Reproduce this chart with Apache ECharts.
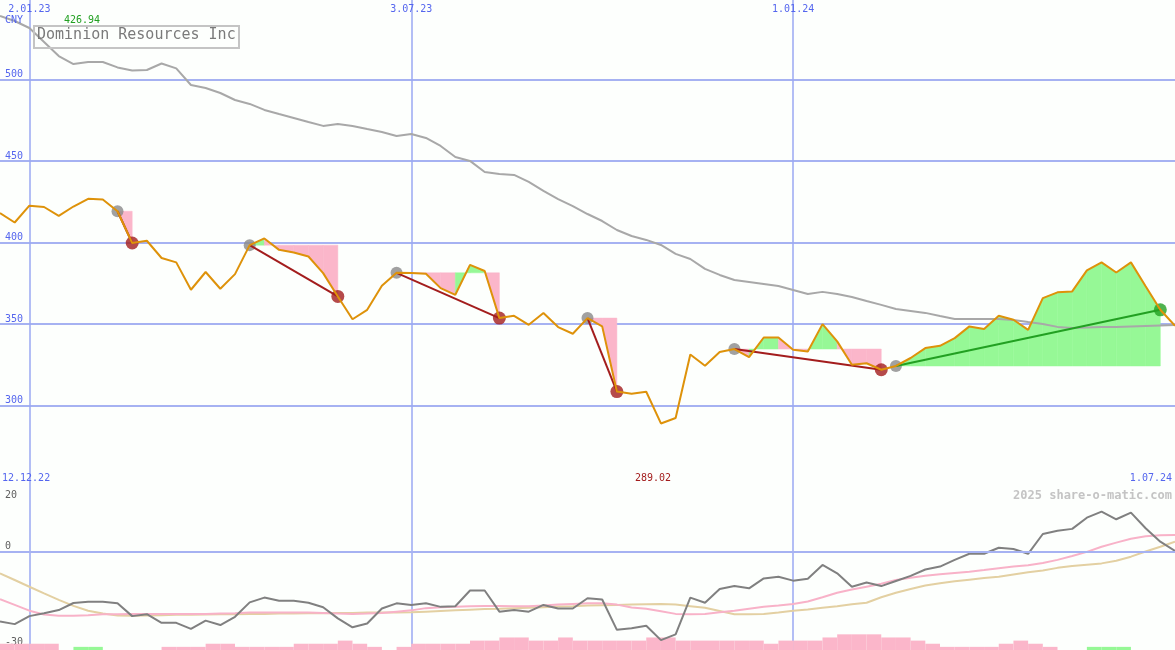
<!DOCTYPE html>
<html><head><meta charset="utf-8">
<script src="https://cdn.jsdelivr.net/npm/echarts@6/dist/echarts.min.js"></script>
<style>html,body{margin:0;padding:0;background:#fdfffd}#c{width:1175px;height:650px}</style>
</head><body><div id="c"></div>
<script>
// ---------- data ----------
const firstWeek = [2022, 11, 19];          // first weekly close shown (19.12.22)
const weekCount = 81;
const gridDates = ['2.01.23', '3.07.23', '1.01.24'];

const price = [418.2,412.4,422.7,421.9,416.5,422.2,426.94,426.5,419.3,399.8,
  401.2,390.6,387.9,371.1,382.0,371.7,380.7,398.5,402.6,395.6,
  394.0,391.5,381.3,367.0,353.0,358.8,373.5,381.5,381.4,380.9,
  372.1,368.0,386.4,382.6,353.7,355.1,349.6,356.8,348.2,344.1,
  353.7,348.6,308.6,307.2,308.5,289.02,292.4,331.4,324.4,332.9,
  334.7,329.8,341.8,341.8,334.3,333.2,350.0,339.4,325.0,326.0,
  322.0,324.3,329.2,335.3,336.7,341.4,348.6,347.0,355.1,352.7,
  346.5,366.0,369.5,370.1,383.0,387.9,381.7,387.9,373.2,358.8,349.0];

const longAvg = [539.2,536.1,531.8,523.2,514.6,509.7,510.9,510.9,507.6,505.7,
  506.0,510.0,507.0,496.8,495.0,491.9,487.6,485.2,481.5,479.0,
  476.6,474.1,471.7,472.9,471.7,469.8,468.0,465.5,466.7,464.3,
  459.4,452.6,450.2,443.4,442.2,441.6,437.3,431.8,426.8,422.5,
  417.6,413.3,407.8,404.1,401.7,398.6,393.1,390.0,383.9,380.2,
  377.1,375.9,374.7,373.4,371.0,368.5,369.8,368.5,366.7,364.2,
  361.8,359.3,358.1,356.9,355.0,353.2,353.2,353.2,353.2,352.6,
  351.3,350.1,348.3,347.6,347.9,348.3,348.3,348.6,348.9,349.2,349.5];

// trades: [entry week, exit week]
const trades = [[8,9],[17,23],[27,34],[40,42],[50,60],[61,79]];

const oscillator = [-21.8,-22.6,-20.1,-19.2,-18.2,-16.0,-15.6,-15.6,-16.1,-20.1,
  -19.5,-22.2,-22.2,-24.1,-21.5,-22.9,-20.3,-15.8,-14.3,-15.3,
  -15.3,-15.9,-17.3,-20.8,-23.6,-22.4,-17.7,-16.1,-16.6,-16.1,
  -17.2,-17.0,-12.1,-12.1,-18.7,-18.2,-18.7,-16.6,-17.7,-17.7,
  -14.5,-14.9,-24.4,-23.9,-23.1,-27.6,-25.8,-14.3,-15.9,-11.6,
  -10.7,-11.4,-8.3,-7.8,-9.0,-8.4,-4.1,-6.7,-10.9,-9.6,
  -10.7,-9.1,-7.5,-5.5,-4.6,-2.5,-0.6,-0.6,1.3,0.9,
  -0.6,5.6,6.6,7.2,10.7,12.6,10.2,12.3,7.4,3.2,0.3];

const fastSignal = [-14.8,-16.6,-18.4,-19.6,-20.0,-20.0,-19.8,-19.5,-19.5,-19.4,
  -19.4,-19.4,-19.4,-19.4,-19.4,-19.3,-19.2,-19.0,-19.0,-19.0,
  -19.0,-19.0,-19.1,-19.3,-19.4,-19.3,-19.1,-18.7,-18.3,-17.6,
  -17.3,-17.2,-17.0,-16.9,-16.9,-17.0,-17.0,-16.8,-16.5,-16.3,
  -16.1,-16.1,-16.5,-17.4,-17.8,-18.6,-19.4,-19.5,-19.4,-18.9,
  -18.4,-17.8,-17.2,-16.8,-16.3,-15.5,-14.2,-12.8,-11.8,-10.9,
  -10.0,-8.8,-8.1,-7.5,-7.0,-6.6,-6.2,-5.7,-5.1,-4.6,
  -4.2,-3.5,-2.5,-1.3,0.0,1.6,2.9,4.1,4.9,5.2,5.3];

const slowSignal = [-6.7,-8.8,-10.9,-13.0,-15.0,-16.9,-18.4,-19.3,-19.9,-20.0,
  -19.9,-19.8,-19.7,-19.7,-19.6,-19.5,-19.5,-19.4,-19.4,-19.3,
  -19.3,-19.2,-19.2,-19.1,-19.1,-19.0,-19.0,-19.0,-18.9,-18.7,
  -18.5,-18.3,-18.1,-17.9,-17.8,-17.6,-17.5,-17.3,-17.1,-17.0,
  -16.8,-16.7,-16.6,-16.5,-16.4,-16.3,-16.5,-17.0,-17.5,-18.5,
  -19.5,-19.5,-19.4,-19.0,-18.4,-18.0,-17.5,-17.0,-16.4,-15.9,
  -14.2,-12.8,-11.6,-10.5,-9.8,-9.2,-8.7,-8.2,-7.8,-7.1,
  -6.4,-5.8,-5.0,-4.4,-4.0,-3.6,-2.8,-1.5,0.1,1.6,3.2];

// signal strength bars per week (positive = pink, negative = green)
const signalBars = [2,2,2,2,0,-1,-1,0,0,0,
  0,1,1,1,2,2,1,1,1,1,
  2,2,2,3,2,1,0,1,2,2,
  2,2,3,3,4,4,3,3,4,3,
  3,3,3,3,4,4,3,3,3,3,
  3,3,2,3,3,3,4,5,5,5,
  4,4,3,2,1,1,1,1,2,3,
  2,1,0,0,-1,-1,-1,0,0,0];

const title = 'Dominion Resources Inc';
const currency = 'CNY';
const maxLabel = '426.94', minLabel = '289.02';
const rangeStart = '12.12.22', rangeEnd = '1.07.24';
const credit = '2025 share-o-matic.com';

// ---------- build ----------
const dates = [];
for (let k = 0; k < weekCount; k++) {
  const d = new Date(Date.UTC(firstWeek[0], firstWeek[1], firstWeek[2] + 7 * k));
  dates.push(d.getUTCDate() + '.' + String(d.getUTCMonth() + 1).padStart(2, '0') + '.' + String(d.getUTCFullYear()).slice(2));
}
const MONO = "'DejaVu Sans Mono','Liberation Mono',monospace";
const BLUE = '#5566ee', GRID = '#a6b2f2', VGRID = '#9aa8f2';
const PINK = '#fbb6ca', GREEN = '#96f896';
const LOSS = '#a31d1d', GAIN = '#22a022';
const isGrid = (i, v) => gridDates.indexOf(v) >= 0;

const fillData = [];
trades.forEach(([a, b]) => {
  const e = price[a];
  for (let i = a; i < b; i++) fillData.push([i, e, price[i], price[i + 1]]);
});
const entryDots = trades.map(([a]) => [a, price[a]]);
const exitDots = trades.map(([a, b]) => ({value: [b, price[b]],
  itemStyle: {color: price[b] >= price[a] ? GAIN : LOSS}}));
const tradeLines = trades.map(([a, b]) => ({
  type: 'line', xAxisIndex: 0, yAxisIndex: 0, z: 4, symbol: 'none', silent: true,
  data: [[a, price[a]], [b, price[b]]],
  lineStyle: {color: price[b] >= price[a] ? GAIN : LOSS, width: 2}
}));
const barData = signalBars.map((v, i) => [i, Math.abs(v), v < 0 ? 1 : 0]).filter(d => d[1] > 0);

const chart = echarts.init(document.getElementById('c'), null, {renderer: 'canvas'});
chart.setOption({
  animation: false,
  backgroundColor: '#fdfffd',
  grid: [
    {left: 0, right: 0, top: 0, height: 487, outerBoundsMode: 'none', containLabel: false},
    {left: 0, right: 0, top: 487, height: 163, outerBoundsMode: 'none', containLabel: false}
  ],
  xAxis: [
    {gridIndex: 0, type: 'category', data: dates, boundaryGap: false, position: 'top',
     axisLine: {show: false}, axisTick: {show: false},
     axisLabel: {inside: true, interval: isGrid, color: BLUE, fontSize: 10, fontFamily: MONO, margin: 4},
     splitLine: {show: true, interval: isGrid, lineStyle: {color: VGRID, width: 1.5}}},
    {gridIndex: 1, type: 'category', data: dates, boundaryGap: false, position: 'top',
     axisLine: {show: true, lineStyle: {color: '#7a88ea', width: 2}}, axisTick: {show: false},
     axisLabel: {show: false},
     splitLine: {show: true, interval: isGrid, lineStyle: {color: VGRID, width: 1.5}}}
  ],
  yAxis: [
    {gridIndex: 0, type: 'value', min: 250, max: 549, interval: 50,
     axisLine: {show: false}, axisTick: {show: false},
     axisLabel: {inside: true, verticalAlign: 'bottom', color: BLUE, fontSize: 10, fontFamily: MONO, margin: 5,
       showMinLabel: false, showMaxLabel: false,
       formatter: v => (v % 50 === 0 && v > 250 ? String(v) : '')},
     splitLine: {show: true, showMinLine: false, showMaxLine: false, lineStyle: {color: GRID, width: 2}}},
    {gridIndex: 1, type: 'value', min: -30.7, max: 20.3,
     axisLine: {show: false}, axisTick: {show: false}, splitLine: {show: false},
     axisLabel: {inside: true, customValues: [0, -30], verticalAlign: 'bottom', color: '#606060', fontSize: 10, fontFamily: MONO, margin: 5}},
    {gridIndex: 1, type: 'value', min: -30.7, max: 20.3, position: 'left',
     axisLine: {show: false}, axisTick: {show: false}, splitLine: {show: false},
     axisLabel: {inside: true, customValues: [20], verticalAlign: 'top', color: '#606060', fontSize: 10, fontFamily: MONO, margin: 5, padding: [2, 0, 0, 0]}},
    {gridIndex: 1, type: 'value', min: 0, max: 52, show: false}
  ],
  series: [
    {type: 'custom', xAxisIndex: 0, yAxisIndex: 0, z: 1, silent: true, data: fillData,
     renderItem: (params, api) => {
       const i = api.value(0), e = api.value(1), p = api.value(2), q = api.value(3);
       return {type: 'polygon',
         shape: {points: [api.coord([i, e]), api.coord([i, p]), api.coord([i + 1, q]), api.coord([i + 1, e])]},
         style: {fill: q >= e ? GREEN : PINK, stroke: q >= e ? GREEN : PINK, lineWidth: 0.5}};
     }},
    {type: 'line', xAxisIndex: 0, yAxisIndex: 0, z: 2, symbol: 'none', silent: true,
     data: longAvg, lineStyle: {color: '#a8a8a8', width: 2}},
    {type: 'scatter', xAxisIndex: 0, yAxisIndex: 0, z: 3, symbolSize: 12, silent: true,
     data: entryDots, itemStyle: {color: '#8a8a8a'}},
    {type: 'scatter', xAxisIndex: 0, yAxisIndex: 0, z: 3, symbolSize: 13, silent: true,
     data: exitDots},
    ...tradeLines,
    {type: 'line', xAxisIndex: 0, yAxisIndex: 0, z: 5, symbol: 'none', silent: true,
     data: price, lineStyle: {color: '#de920a', width: 2}},

    {type: 'custom', xAxisIndex: 1, yAxisIndex: 3, z: 1, silent: true, data: barData,
     renderItem: (params, api) => {
       const i = api.value(0), v = api.value(1), g = api.value(2);
       const p0 = api.coord([i, 0]), p1 = api.coord([i + 1, v]);
       return {type: 'rect', shape: {x: p0[0], y: p1[1], width: p1[0] - p0[0], height: p0[1] - p1[1]},
         style: {fill: g ? GREEN : PINK}};
     }},
    {type: 'line', xAxisIndex: 1, yAxisIndex: 1, z: 2, symbol: 'none', silent: true,
     data: slowSignal, lineStyle: {color: '#e3d0a2', width: 2}},
    {type: 'line', xAxisIndex: 1, yAxisIndex: 1, z: 2, symbol: 'none', silent: true,
     data: fastSignal, lineStyle: {color: '#f8b2c8', width: 2}},
    {type: 'line', xAxisIndex: 1, yAxisIndex: 1, z: 3, symbol: 'none', silent: true,
     data: oscillator, lineStyle: {color: '#808080', width: 2},
     markLine: {silent: true, symbol: 'none', label: {show: false},
       lineStyle: {color: GRID, width: 2, type: 'solid'}, data: [{yAxis: 0}]}}
  ],
  graphic: [
    {type: 'rect', left: 33, top: 25, shape: {width: 205, height: 22}, z: 10,
     style: {fill: 'rgba(0,0,0,0)', stroke: '#c4c4c4', lineWidth: 2}},
    {type: 'text', left: 37, top: 28, z: 11,
     style: {text: title, fill: '#7a7a7a', font: '15px ' + MONO}},
    {type: 'text', left: 5, top: 15, z: 11, style: {text: currency, fill: BLUE, font: '10px ' + MONO}},
    {type: 'text', left: 64, top: 15, z: 11, style: {text: maxLabel, fill: '#22a022', font: '10px ' + MONO}},
    {type: 'text', left: 2, top: 473, z: 11, style: {text: rangeStart, fill: BLUE, font: '10px ' + MONO}},
    {type: 'text', left: 635, top: 473, z: 11, style: {text: minLabel, fill: '#a31d1d', font: '10px ' + MONO}},
    {type: 'text', right: 3, top: 473, z: 11, style: {text: rangeEnd, fill: BLUE, font: '10px ' + MONO}},
    {type: 'text', right: 3, top: 490, z: 11, style: {text: credit, fill: '#c4c4c4', font: 'bold 12px ' + MONO}}
  ]
});
</script></body></html>
